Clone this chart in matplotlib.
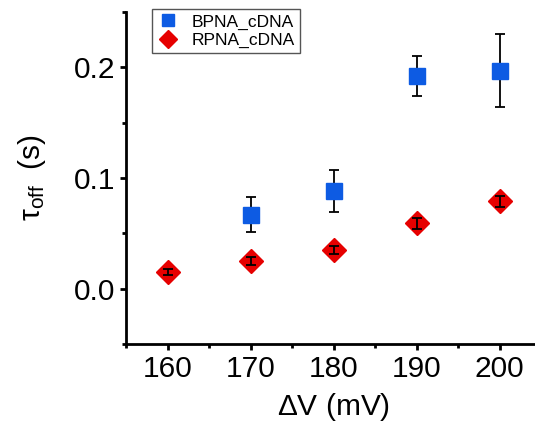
import matplotlib
matplotlib.use("Agg")
import matplotlib.pyplot as plt
from matplotlib.ticker import MultipleLocator

# data
voltage_bpna = [170, 180, 190, 200]
tau_bpna = [0.067, 0.088, 0.192, 0.197]
err_bpna = [0.016, 0.019, 0.018, 0.033]

voltage_rpna = [160, 170, 180, 190, 200]
tau_rpna = [0.015, 0.025, 0.035, 0.059, 0.079]
err_rpna = [0.003, 0.004, 0.004, 0.005, 0.005]

BLUE = "#0d5be3"
RED = "#e60000"

plt.rcParams.update({
    "font.family": ["Liberation Sans", "DejaVu Sans"],
    "mathtext.fontset": "custom",
    "mathtext.rm": "Liberation Sans",
    "mathtext.it": "Liberation Sans:italic",
    "font.size": 21.5,
})

fig = plt.figure(figsize=(5.35, 4.36), dpi=100)
ax = fig.add_axes([126 / 535, 92 / 436, 415 / 535, 332 / 436])

ax.errorbar(voltage_bpna, tau_bpna, yerr=err_bpna, fmt="none",
            ecolor="black", elinewidth=1.3, capsize=3.5, capthick=1.3, zorder=2)
ax.plot(voltage_bpna, tau_bpna, ls="none", marker="s", ms=11,
        mfc=BLUE, mec=BLUE, label="BPNA_cDNA", zorder=3)

ax.plot(voltage_rpna, tau_rpna, ls="none", marker="D", ms=12,
        mfc=RED, mec=RED, label="RPNA_cDNA", zorder=3)
ax.errorbar(voltage_rpna, tau_rpna, yerr=err_rpna, fmt="none",
            ecolor="black", elinewidth=1.3, capsize=3.5, capthick=1.3, zorder=4)

ax.set_xlim(155, 205)
ax.set_ylim(-0.05, 0.25)
ax.xaxis.set_minor_locator(MultipleLocator(5))
ax.yaxis.set_minor_locator(MultipleLocator(0.05))
ax.set_xticks([160, 170, 180, 190, 200])
ax.set_yticks([0.0, 0.1, 0.2])
ax.set_yticklabels(["0.0", "0.1", "0.2"])

for side in ["top", "right"]:
    ax.spines[side].set_visible(False)
for side in ["left", "bottom"]:
    ax.spines[side].set_linewidth(2.0)

ax.tick_params(which="major", direction="out", length=4, width=2, pad=4)
ax.tick_params(which="minor", direction="out", length=3, width=2)

ax.set_xlabel(r"$\Delta$V (mV)", labelpad=6)
ax.set_ylabel(r"$\mathregular{\tau_{off}}\;$ (s)", labelpad=18)

leg = ax.legend(loc="upper left", bbox_to_anchor=(152 / 535, 1 - 9 / 436),
                bbox_transform=fig.transFigure, borderaxespad=0,
                fontsize=12.5, fancybox=False, framealpha=1, edgecolor="#555555",
                markerscale=0.75, handlelength=1.2, handletextpad=0.8,
                borderpad=0.3, labelspacing=0.2, numpoints=1)
leg.get_frame().set_linewidth(1.0)

fig.savefig("out.png", dpi=100)
